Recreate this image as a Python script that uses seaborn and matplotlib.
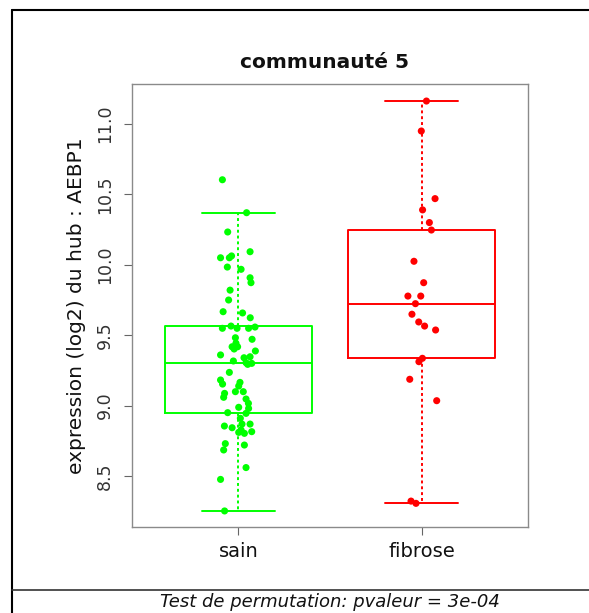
import numpy as np
import pandas as pd
import matplotlib
matplotlib.use("Agg")
import matplotlib.pyplot as plt
import seaborn as sns
from matplotlib.lines import Line2D

# ---- data ----
groups = ["sain", "fibrose"]
colors = {"sain": "#00ff00", "fibrose": "#ff0000"}

sain_values = [10.604, 10.37, 10.233, 10.093, 10.063, 10.05, 10.05, 9.984, 9.968, 9.908,
               9.873, 9.82, 9.75, 9.667, 9.658, 9.624, 9.565, 9.558, 9.549, 9.549,
               9.549, 9.482, 9.471, 9.443, 9.418, 9.418, 9.402, 9.388, 9.36, 9.347,
               9.34, 9.317, 9.305, 9.30, 9.293, 9.236, 9.182, 9.165, 9.153, 9.139,
               9.099, 9.099, 9.087, 9.059, 9.047, 9.016, 8.988, 8.98, 8.95, 8.945,
               8.91, 8.869, 8.869, 8.855, 8.843, 8.827, 8.815, 8.81, 8.803, 8.73,
               8.72, 8.685, 8.56, 8.476, 8.252]
sain_jitter = [-0.087, 0.045, -0.058, 0.064, -0.037, -0.097, -0.049, -0.060, 0.015, 0.064,
               0.069, -0.045, -0.053, -0.083, 0.023, 0.065, -0.040, 0.091, -0.087, -0.007,
               0.056, -0.016, 0.075, -0.013, -0.034, -0.004, -0.023, 0.093, -0.097, 0.064,
               0.031, -0.027, 0.042, 0.073, 0.051, -0.049, -0.097, 0.009, -0.086, 0.002,
               -0.016, 0.027, -0.075, -0.080, 0.042, 0.055, 0.002, 0.056, -0.058, 0.042,
               0.011, 0.064, 0.020, -0.076, -0.034, 0.015, 0.073, 0.002, 0.033, -0.071,
               0.033, -0.080, 0.042, -0.097, -0.075]

fibrose_values = [11.163, 10.95, 10.47, 10.39, 10.30, 10.247, 10.025, 9.873, 9.778, 9.778,
                  9.724, 9.649, 9.594, 9.565, 9.537, 9.336, 9.312, 9.187, 9.035, 8.322, 8.306]
fibrose_jitter = [0.026, -0.002, 0.073, 0.005, 0.042, 0.053, -0.042, 0.011, -0.075, -0.005,
                  -0.034, -0.053, -0.016, 0.016, 0.076, 0.004, -0.015, -0.065, 0.082, -0.058, -0.031]

title = "communauté 5"
ylabel = "expression (log2) du hub : AEBP1"
caption = "Test de permutation: pvaleur = 3e-04"
yticks = [8.5, 9.0, 9.5, 10.0, 10.5, 11.0]

df = pd.DataFrame({
    "groupe": ["sain"] * len(sain_values) + ["fibrose"] * len(fibrose_values),
    "valeur": sain_values + fibrose_values,
    "jitter": sain_jitter + fibrose_jitter,
})
df["pos"] = df["groupe"].map({g: i for i, g in enumerate(groups)}) + df["jitter"]

sns.set_theme(style="white")
plt.rcParams["font.family"] = ["DejaVu Sans"]

fig = plt.figure(figsize=(5.89, 6.13), dpi=100)
ax = fig.add_axes([132 / 589, 1 - 527 / 613, 396 / 589, 443 / 613])

sns.boxplot(data=df, x="groupe", y="valeur", hue="groupe", order=groups, hue_order=groups,
            palette=colors, fill=False, width=0.8, whis=1.5, showfliers=False,
            linewidth=1.4, legend=False, ax=ax,
            whiskerprops={"linestyle": (0, (1.5, 1.5))})

sns.scatterplot(data=df, x="pos", y="valeur", hue="groupe", hue_order=groups, palette=colors,
                s=26, edgecolor="none", linewidth=0, legend=False, ax=ax, zorder=3)

ax.set_xlim(-0.58, 1.58)
ax.set_ylim(8.138, 11.284)
ax.set_xticks([0, 1])
ax.set_xticklabels(groups, fontsize=14, color="#111111")
ax.set_yticks(yticks)
ax.set_yticklabels([f"{v:.1f}" for v in yticks], rotation=90, va="center",
                   fontsize=12.5, color="#333333")
ax.tick_params(axis="both", which="both", length=6, width=0.8, color="#666666",
               left=True, bottom=True, direction="out")
ax.tick_params(axis="y", pad=7)
ax.tick_params(axis="x", pad=5)
for sp in ax.spines.values():
    sp.set_visible(True)
    sp.set_color("#8a8a8a")
    sp.set_linewidth(1.0)
ax.set_xlabel("")
ax.set_ylabel(ylabel, fontsize=14.5, color="#111111", labelpad=7)
ax.grid(False)

fig.text(325 / 589, 1 - 62 / 613, title, ha="center", va="center",
         fontsize=14.5, fontweight="bold", color="#111111")

# frame lines of the surrounding layout
fig.add_artist(Line2D([12 / 589, 12 / 589], [0, 1 - 10 / 613], transform=fig.transFigure,
                      color="black", lw=1.5))
fig.add_artist(Line2D([12 / 589, 1], [1 - 10 / 613, 1 - 10 / 613], transform=fig.transFigure,
                      color="black", lw=1.5))
fig.add_artist(Line2D([12 / 589, 1], [1 - 590 / 613, 1 - 590 / 613], transform=fig.transFigure,
                      color="#333333", lw=1.2))
fig.text(330 / 589, 1 - 602 / 613, caption, ha="center", va="center",
         fontsize=13, style="italic", color="#111111")

fig.savefig("out.png", dpi=100)
